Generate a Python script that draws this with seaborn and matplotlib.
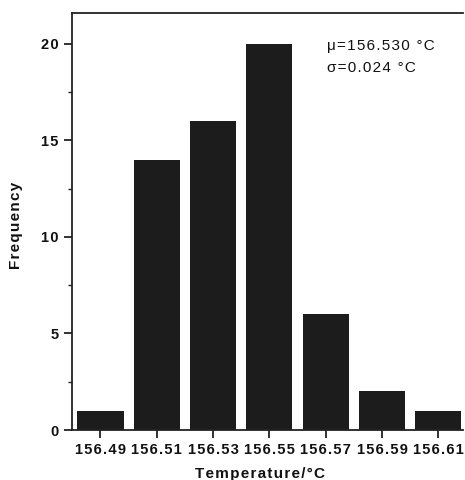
import matplotlib
matplotlib.use("Agg")
import matplotlib.pyplot as plt
import seaborn as sns
import pandas as pd
from matplotlib.ticker import MultipleLocator

temps = ["156.49", "156.51", "156.53", "156.55", "156.57", "156.59", "156.61"]
freq = [1, 14, 16, 20, 6, 2, 1]
mu_text = "\u03bc=156.530 \u00b0C"
sigma_text = "\u03c3=0.024 \u00b0C"

HS = "\u200a"


def spaced(s):
    return HS.join(s)


sns.set_theme(style="ticks")
plt.rcParams["font.family"] = ["Liberation Sans", "DejaVu Sans"]

df = pd.DataFrame({"Temperature": temps, "Frequency": freq})

fig = plt.figure(figsize=(4.65, 4.8), dpi=100)
ax = fig.add_axes([72 / 465, 1 - 430 / 480, (463 - 72) / 465, (430 - 13) / 480])

sns.barplot(data=df, x="Temperature", y="Frequency", color="#1c1c1c",
            saturation=1, width=0.82, ax=ax, edgecolor="none")

ax.set_xlim(-0.506, 6.44)
ax.set_ylim(0, 21.6)
ax.yaxis.set_minor_locator(MultipleLocator(2.5))
ax.set_xticks(range(len(temps)))
ax.set_xticklabels([spaced(t) for t in temps])
ax.set_yticks([0, 5, 10, 15, 20])
ax.set_yticklabels([spaced(str(v)) for v in [0, 5, 10, 15, 20]])
ax.spines["right"].set_visible(False)
for s in ["left", "bottom", "top"]:
    ax.spines[s].set_linewidth(1.3)
    ax.spines[s].set_color("#222222")
ax.tick_params(axis="both", which="major", direction="out", length=6, width=1.3,
               color="#222222", labelsize=10.5, labelcolor="#111111")
ax.tick_params(axis="x", which="major", pad=3)
ax.tick_params(axis="y", which="minor", direction="out", length=3, width=1.0, color="#222222")
for lab in ax.get_xticklabels() + ax.get_yticklabels():
    lab.set_fontweight("bold")
ax.set_xlabel(spaced("Temperature/\u00b0C"), fontsize=11, fontweight="bold", color="#111111")
ax.set_ylabel(spaced("Frequency"), fontsize=11, fontweight="bold", color="#111111")
ax.xaxis.set_label_coords(0.48, -0.088)
ax.yaxis.set_label_coords(-0.125, 0.49)

ax.text(0.653, 0.92, spaced(mu_text), transform=ax.transAxes, fontsize=11,
        ha="left", va="center", color="#111111")
ax.text(0.653, 0.867, spaced(sigma_text), transform=ax.transAxes, fontsize=11,
        ha="left", va="center", color="#111111")

fig.savefig("out.png", dpi=100)
